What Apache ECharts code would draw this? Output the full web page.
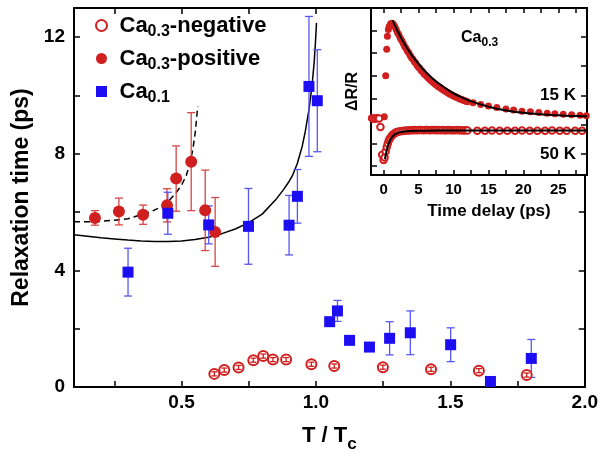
<!DOCTYPE html>
<html>
<head>
<meta charset="utf-8">
<script src="https://cdn.jsdelivr.net/npm/echarts@6/dist/echarts.min.js"></script>
<style>
  html, body { margin: 0; padding: 0; background: #fff; }
  #chart { width: 601px; height: 458px; }
</style>
</head>
<body>
<div id="chart"></div>
<script>
// ---------- main panel: relaxation time vs reduced temperature ----------
const tcNeg  = [0.622, 0.659, 0.712, 0.767, 0.804, 0.840, 0.889, 0.983, 1.068, 1.249, 1.428, 1.606, 1.784];
const tauNeg = [0.45, 0.58, 0.67, 0.92, 1.06, 0.94, 0.94, 0.78, 0.72, 0.68, 0.61, 0.56, 0.41];
const errNeg = [0.07, 0.07, 0.07, 0.07, 0.07, 0.07, 0.07, 0.07, 0.07, 0.07, 0.07, 0.07, 0.07];

const tcPos  = [0.178, 0.267, 0.357, 0.446, 0.480, 0.536, 0.588, 0.625];
const tauPos = [5.80, 6.02, 5.91, 6.23, 7.15, 7.73, 6.06, 5.32];
const errPos = [0.25, 0.46, 0.33, 0.57, 1.12, 1.68, 1.38, 1.18];

const tcCa01  = [0.301, 0.449, 0.601, 0.749, 0.900, 0.931, 0.974, 1.005, 1.051, 1.080, 1.125, 1.199, 1.274, 1.351, 1.501, 1.649, 1.801];
const tauCa01 = [3.94, 5.96, 5.56, 5.51, 5.55, 6.54, 10.31, 9.82, 2.24, 2.61, 1.60, 1.37, 1.67, 1.86, 1.45, 0.19, 0.98];
const errCa01 = [0.82, 0.72, 0.65, 1.30, 1.02, 0.92, 2.40, 1.75, 0.10, 0.36, 0.10, 0.10, 0.57, 0.75, 0.58, 0.10, 0.65];

// model curves
const fitCa01T   = [0.10, 0.15, 0.20, 0.25, 0.30, 0.35, 0.40, 0.45, 0.50, 0.55, 0.60, 0.65, 0.70, 0.75, 0.80,
                    0.85, 0.88, 0.90, 0.912, 0.93, 0.949, 0.96, 0.974, 0.985, 0.993, 0.998, 1.002];
const fitCa01Tau = [5.22, 5.17, 5.12, 5.08, 5.04, 5.01, 4.99, 4.99, 5.01, 5.06, 5.14, 5.26, 5.42, 5.64, 5.93,
                    6.42, 6.78, 7.05, 7.24, 7.65, 8.26, 8.75, 9.51, 10.30, 11.10, 11.80, 12.49];
const fitPosT    = [0.10, 0.17, 0.25, 0.30, 0.357, 0.39, 0.42, 0.45, 0.48, 0.50, 0.517, 0.53, 0.542, 0.552, 0.560];
const fitPosTau  = [5.67, 5.67, 5.72, 5.77, 5.93, 6.03, 6.16, 6.35, 6.67, 6.92, 7.24, 7.62, 8.15, 8.80, 9.62];

// axis ticks / labels
const xTickVals  = [0.25, 0.5, 0.75, 1.0, 1.25, 1.5, 1.75];
const xLabelVals = [0.5, 1.0, 1.5, 2.0];
const yTickVals  = [0, 2, 4, 6, 8, 10, 12];
const yLabelVals = [0, 4, 8, 12];

// ---------- inset: transient reflectivity of Ca0.3 ----------
const t15 = [0.10, 0.30, 0.45, 0.55, 0.68,
  0.8, 1.0, 1.2, 1.4, 1.6, 1.8, 2.0, 2.2, 2.4, 2.6, 2.8, 3.0, 3.2, 3.4, 3.6, 3.8, 4.0,
  4.2, 4.4, 4.6, 4.8, 5.0, 5.2, 5.4, 5.6, 5.8, 6.0, 6.2, 6.4, 6.6, 6.8, 7.0, 7.2, 7.4,
  7.6, 7.8, 8.0, 8.2, 8.4, 8.6, 8.8, 9.0, 9.2, 9.4, 9.6, 9.8, 10.0, 10.2, 10.4, 10.6,
  10.8, 11.0, 11.2, 11.4, 11.6, 11.8, 12.0,
  12.8, 13.9, 15.0, 16.2, 17.5, 18.6, 19.8, 21.0, 22.2, 23.4, 24.5, 25.7, 26.9, 28.1, 29.0];
const r15 = [0.18, 2.00, 3.17, 3.75, 4.05,
  4.18, 4.30, 4.32, 4.28, 4.18, 4.05, 3.90, 3.80, 3.66, 3.56, 3.44, 3.30, 3.22, 3.10, 3.02, 2.90, 2.80,
  2.73, 2.62, 2.56, 2.45, 2.38, 2.32, 2.22, 2.17, 2.08, 2.03, 1.96, 1.90, 1.84, 1.78, 1.73, 1.68, 1.62,
  1.58, 1.52, 1.49, 1.44, 1.40, 1.35, 1.32, 1.28, 1.25, 1.20, 1.17, 1.14, 1.10, 1.08, 1.04, 1.02,
  0.99, 0.96, 0.94, 0.91, 0.89, 0.87, 0.85,
  0.80, 0.72, 0.66, 0.59, 0.53, 0.48, 0.43, 0.40, 0.37, 0.34, 0.31, 0.29, 0.27, 0.25, 0.23];
const fit15T = [1.3, 2, 3, 4, 5, 6, 7, 8, 9, 10, 11, 12, 13, 14, 15, 16, 18, 20, 22, 24, 26, 28, 29.1];
const fit15R = [4.45, 3.98, 3.40, 2.92, 2.52, 2.17, 1.88, 1.63, 1.42, 1.22, 1.07, 0.93, 0.82, 0.72, 0.63, 0.55, 0.44, 0.36, 0.30, 0.26, 0.23, 0.21, 0.20];

const t50 = [-1.9, -1.65, -1.4, -1.15, -0.9, -0.65, -0.45, -0.2, 0.0, 0.15, 0.3, 0.45, 0.6, 0.75, 0.9,
  1.1, 1.3, 1.5, 1.7, 1.9, 2.1, 2.4, 2.7, 3.0, 3.3, 3.6, 3.9, 4.2, 4.5, 4.8, 5.1, 5.4, 5.7,
  6.0, 6.3, 6.6, 6.9, 7.2, 7.5, 7.8, 8.1, 8.4, 8.7, 9.0, 9.3, 9.6, 9.9, 10.2, 10.5, 10.8,
  11.1, 11.4, 11.7, 12.0,
  13.4, 14.5, 15.5, 16.6, 17.7, 18.8, 19.8, 20.9, 22.0, 23.1, 24.1, 25.2, 26.2, 27.4, 28.4];
const r50 = [0.10, 0.11, 0.09, 0.10, 0.11, 0.10, -0.27, -1.50, -1.74, -1.62, -1.36, -1.16, -1.00, -0.87, -0.78,
  -0.69, -0.62, -0.57, -0.53, -0.50, -0.48, -0.46, -0.45, -0.44, -0.43, -0.43, -0.42, -0.42, -0.41, -0.42, -0.41, -0.41, -0.42,
  -0.41, -0.41, -0.42, -0.41, -0.41, -0.42, -0.41, -0.42, -0.41, -0.42, -0.42, -0.41, -0.42, -0.42, -0.42, -0.41, -0.42,
  -0.42, -0.43, -0.42, -0.43,
  -0.44, -0.44, -0.43, -0.44, -0.44, -0.44, -0.43, -0.44, -0.44, -0.44, -0.43, -0.44, -0.44, -0.44, -0.44];
const fit50T = [0.2, 0.35, 0.5, 0.7, 0.9, 1.1, 1.4, 1.8, 2.3, 3, 4, 5, 8, 29.1];
const fit50R = [-1.70, -1.45, -1.24, -1.03, -0.88, -0.77, -0.66, -0.57, -0.51, -0.47, -0.45, -0.44, -0.43, -0.43];

const insetXTicks  = [0, 2.5, 5, 7.5, 10, 12.5, 15, 17.5, 20, 22.5, 25, 27.5];
const insetXLabels = [0, 5, 10, 15, 20, 25];
const insetYTicks  = [-2, -1, 0, 1, 2, 3, 4];
const insetRTicks  = [-1.47, -0.18, 1.11, 2.42, 3.72];
const tempLabelAt  = [1.11, -1.47];
const tempLabels   = ['15 K', '50 K'];

// ---------- styling ----------
const FONT = '"Liberation Sans", Arial, Helvetica, sans-serif';
const RED = '#d01f1f';
const RED_BAR = '#d84545';
const BLUE = '#1d0df2';
const BLUE_BAR = '#5757f2';

const zip = (a, b) => a.map((v, i) => [v, b[i]]);
const bars = (x, y, e) => x.map((v, i) => [v, y[i] - e[i], y[i] + e[i]]);

function errorBarSeries(data, color, z, half) {
  return {
    type: 'custom', xAxisIndex: 0, yAxisIndex: 0, z: z, silent: true,
    data: data,
    encode: { x: 0, y: [1, 2] },
    renderItem: function (params, api) {
      const x = api.value(0);
      const a = api.coord([x, api.value(2)]);
      const b = api.coord([x, api.value(1)]);
      const st = { stroke: color, lineWidth: 1.3, fill: null };
      return {
        type: 'group',
        children: [
          { type: 'line', shape: { x1: a[0], y1: a[1], x2: b[0], y2: b[1] }, style: st },
          { type: 'line', shape: { x1: a[0] - half, y1: a[1], x2: a[0] + half, y2: a[1] }, style: st },
          { type: 'line', shape: { x1: b[0] - half, y1: b[1], x2: b[0] + half, y2: b[1] }, style: st }
        ]
      };
    }
  };
}

const frame = { show: true, onZero: false, lineStyle: { color: '#000', width: 2 } };
const tickIn = (vals, len) => ({ show: true, inside: true, length: len, customValues: vals, lineStyle: { color: '#000', width: 1.5 } });

const legendNames = {
  'Ca0.3-negative': '{m|Ca}{s|0.3}{m|-negative}',
  'Ca0.3-positive': '{m|Ca}{s|0.3}{m|-positive}',
  'Ca0.1': '{m|Ca}{s|0.1}'
};

const chart = echarts.init(document.getElementById('chart'), null, { renderer: 'canvas' });

chart.setOption({
  animation: false,
  backgroundColor: '#fff',
  textStyle: { fontFamily: FONT },
  title: {
    text: '{m|Ca}{s|0.3}',
    left: 461, top: 29, padding: 0, z: 20,
    textStyle: {
      rich: {
        m: { fontFamily: FONT, fontSize: 16, fontWeight: 'bold', color: '#000', lineHeight: 18 },
        s: { fontFamily: FONT, fontSize: 12, fontWeight: 'bold', color: '#000', lineHeight: 12, padding: [10, 0, 0, 0] }
      }
    }
  },
  legend: {
    orient: 'vertical',
    left: 90, top: 6,
    itemWidth: 26, itemHeight: 11, itemGap: 4,
    selectedMode: false,
    data: [
      { name: 'Ca0.3-negative', icon: 'emptyCircle', itemStyle: { color: RED, borderColor: RED, borderWidth: 2, opacity: 1 } },
      { name: 'Ca0.3-positive', icon: 'circle', itemStyle: { color: RED, opacity: 1 } },
      { name: 'Ca0.1', icon: 'path://M0 0H10V10H0Z', itemStyle: { color: BLUE, opacity: 1 } }
    ],
    formatter: name => legendNames[name],
    textStyle: {
      rich: {
        m: { fontFamily: FONT, fontSize: 22, fontWeight: 'bold', color: '#000', lineHeight: 24 },
        s: { fontFamily: FONT, fontSize: 16, fontWeight: 'bold', color: '#000', lineHeight: 16, padding: [13, 0, 0, 0] }
      }
    }
  },
  grid: [
    { left: 74, top: 8, width: 513, height: 381, show: false },
    { left: 371, top: 8, width: 216, height: 167, show: true, backgroundColor: '#fff', borderWidth: 0, z: 10 }
  ],
  xAxis: [
    {
      gridIndex: 0, type: 'value', position: 'bottom', min: 0.1, max: 2.0,
      axisLine: frame, axisTick: tickIn(xTickVals, 6), splitLine: { show: false },
      axisLabel: {
        customValues: xLabelVals, margin: 6, color: '#000', fontFamily: FONT,
        fontSize: 19, fontWeight: 'bold', formatter: v => v.toFixed(1)
      },
      name: '{m|T / T}{s|c}', nameLocation: 'middle', nameGap: 37,
      nameTextStyle: {
        rich: {
          m: { fontFamily: FONT, fontSize: 22, fontWeight: 'bold', color: '#000', lineHeight: 24 },
          s: { fontFamily: FONT, fontSize: 17, fontWeight: 'bold', color: '#000', lineHeight: 17, padding: [17, 0, 0, 0] }
        }
      }
    },
    {
      gridIndex: 0, type: 'value', position: 'top', min: 0.1, max: 2.0,
      axisLine: frame, axisTick: tickIn(xTickVals, 6), axisLabel: { show: false }, splitLine: { show: false }
    },
    {
      gridIndex: 1, type: 'value', position: 'bottom', min: -1.8, max: 29.1, z: 11,
      axisLine: frame, axisTick: tickIn(insetXTicks, 5), splitLine: { show: false },
      axisLabel: {
        customValues: insetXLabels, margin: 7, color: '#000', fontFamily: FONT,
        fontSize: 15, fontWeight: 'bold'
      },
      name: 'Time delay (ps)', nameLocation: 'middle', nameGap: 28,
      nameTextStyle: { fontFamily: FONT, fontSize: 17, fontWeight: 'bold', color: '#000', padding: [0, 0, 0, 20] }
    },
    {
      gridIndex: 1, type: 'value', position: 'top', min: -1.8, max: 29.1, z: 11,
      axisLine: frame, axisTick: tickIn(insetXTicks, 5), axisLabel: { show: false }, splitLine: { show: false }
    }
  ],
  yAxis: [
    {
      gridIndex: 0, type: 'value', position: 'left', min: 0, max: 13,
      axisLine: frame, axisTick: tickIn(yTickVals, 6), splitLine: { show: false },
      axisLabel: {
        customValues: yLabelVals, margin: 9, color: '#000', fontFamily: FONT,
        fontSize: 19, fontWeight: 'bold'
      },
      name: 'Relaxation time (ps)', nameLocation: 'middle', nameGap: 40,
      nameTextStyle: { fontFamily: FONT, fontSize: 23, fontWeight: 'bold', color: '#000' }
    },
    {
      gridIndex: 0, type: 'value', position: 'right', min: 0, max: 13,
      axisLine: frame, axisTick: tickIn(yTickVals, 6), axisLabel: { show: false }, splitLine: { show: false }
    },
    {
      gridIndex: 1, type: 'value', position: 'left', min: -2.4, max: 5, z: 11,
      axisLine: frame, axisTick: tickIn(insetYTicks, 6), axisLabel: { show: false }, splitLine: { show: false },
      name: 'ΔR/R', nameLocation: 'middle', nameGap: 10,
      nameTextStyle: { fontFamily: FONT, fontSize: 16, fontWeight: 'bold', color: '#000' }
    },
    {
      gridIndex: 1, type: 'value', position: 'right', min: -2.4, max: 5, z: 11,
      axisLine: frame, axisTick: tickIn(insetRTicks, 6), splitLine: { show: false },
      axisLabel: {
        customValues: tempLabelAt, inside: true, margin: 11, color: '#000', fontFamily: FONT,
        fontSize: 17, fontWeight: 'bold',
        formatter: v => tempLabels[tempLabelAt.indexOf(v)]
      }
    }
  ],
  series: [
    // model curves
    {
      type: 'line', name: 'fit-ca01', xAxisIndex: 0, yAxisIndex: 0, z: 1,
      data: zip(fitCa01T, fitCa01Tau), showSymbol: false, smooth: false,
      lineStyle: { color: '#000', width: 1.5 }
    },
    {
      type: 'line', name: 'fit-pos', xAxisIndex: 0, yAxisIndex: 0, z: 1,
      data: zip(fitPosT, fitPosTau), showSymbol: false, smooth: false,
      lineStyle: { color: '#000', width: 1.5, type: [6, 4] }
    },
    // error bars
    errorBarSeries(bars(tcPos, tauPos, errPos), RED_BAR, 2, 4),
    errorBarSeries(bars(tcCa01, tauCa01, errCa01), BLUE_BAR, 2, 4),
    // data points
    {
      type: 'scatter', name: 'Ca0.3-positive', xAxisIndex: 0, yAxisIndex: 0, z: 3,
      data: zip(tcPos, tauPos), symbol: 'circle', symbolSize: 12,
      itemStyle: { color: RED, opacity: 1 }
    },
    {
      type: 'scatter', name: 'Ca0.1', xAxisIndex: 0, yAxisIndex: 0, z: 3,
      data: zip(tcCa01, tauCa01), symbol: 'rect', symbolSize: 11,
      itemStyle: { color: BLUE, opacity: 1 }
    },
    {
      type: 'scatter', name: 'Ca0.3-negative', xAxisIndex: 0, yAxisIndex: 0, z: 3,
      data: zip(tcNeg, tauNeg), symbol: 'emptyCircle', symbolSize: 10,
      itemStyle: { color: RED, borderColor: RED, borderWidth: 2, opacity: 1 }
    },
    errorBarSeries(bars(tcNeg, tauNeg, errNeg), RED, 4, 3),

    // inset
    {
      type: 'scatter', name: 'r15', xAxisIndex: 2, yAxisIndex: 2, z: 12,
      data: zip(t15, r15), symbol: 'circle', symbolSize: 7,
      itemStyle: { color: RED, opacity: 1 },
      markLine: {
        silent: true, symbol: ['none', 'none'], label: { show: false },
        lineStyle: { color: '#9be84a', width: 1.5, type: 'solid' },
        data: [{ yAxis: 0 }]
      }
    },
    {
      type: 'scatter', name: 'r50', xAxisIndex: 2, yAxisIndex: 2, z: 12,
      data: zip(t50, r50), symbol: 'emptyCircle', symbolSize: 6.5,
      itemStyle: { color: RED, borderColor: RED, borderWidth: 1.2, opacity: 1 }
    },
    {
      type: 'line', name: 'fit15', xAxisIndex: 2, yAxisIndex: 2, z: 13,
      data: zip(fit15T, fit15R), showSymbol: false, smooth: 0.3,
      lineStyle: { color: '#000', width: 2 }
    },
    {
      type: 'line', name: 'fit50', xAxisIndex: 2, yAxisIndex: 2, z: 13,
      data: zip(fit50T, fit50R), showSymbol: false, smooth: 0.3,
      lineStyle: { color: '#000', width: 2 }
    }
  ]
});
</script>
</body>
</html>
